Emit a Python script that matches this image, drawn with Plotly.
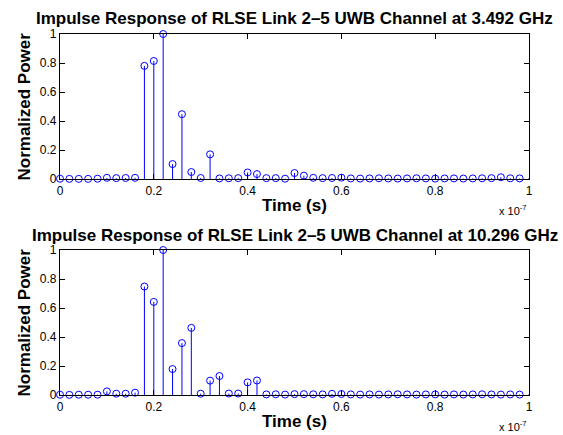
import numpy as np
import plotly.graph_objects as go
from plotly.subplots import make_subplots

# Sample instants of the channel impulse response (2 ns spacing, 0..100 ns)
sample_period_s = 2e-9
n_samples = 51
time_s = [k * sample_period_s for k in range(n_samples)]

# Normalized power per delay bin, link 2-5 at 3.492 GHz
power_3492 = [
    0.002, 0.001, 0.001, 0.001, 0.002, 0.008, 0.006, 0.007, 0.008, 0.780,
    0.814, 1.000, 0.103, 0.447, 0.048, 0.007, 0.170, 0.004, 0.005, 0.006,
    0.045, 0.034, 0.006, 0.006, 0.002, 0.041, 0.023, 0.008, 0.006, 0.007,
    0.009, 0.004, 0.003, 0.004, 0.005, 0.004, 0.003, 0.004, 0.005, 0.004,
    0.003, 0.004, 0.004, 0.003, 0.004, 0.005, 0.006, 0.012, 0.005, 0.004,
    0.006,
]

# Normalized power per delay bin, link 2-5 at 10.296 GHz
power_10296 = [
    0.002, 0.001, 0.002, 0.002, 0.002, 0.025, 0.009, 0.009, 0.016, 0.748,
    0.642, 1.000, 0.179, 0.358, 0.463, 0.009, 0.099, 0.131, 0.010, 0.010,
    0.087, 0.100, 0.004, 0.005, 0.003, 0.006, 0.006, 0.005, 0.004, 0.008,
    0.007, 0.004, 0.003, 0.004, 0.003, 0.004, 0.005, 0.004, 0.003, 0.004,
    0.004, 0.003, 0.004, 0.003, 0.004, 0.005, 0.004, 0.003, 0.004, 0.003,
    0.005,
]

titles = [
    "Impulse Response of RLSE Link 2\u20135 UWB Channel at 3.492 GHz",
    "Impulse Response of RLSE Link 2\u20135 UWB Channel at 10.296 GHz",
]
x_tick_vals = [0, 2e-8, 4e-8, 6e-8, 8e-8, 1e-7]
x_tick_text = ["0", "0.2", "0.4", "0.6", "0.8", "1"]
y_tick_vals = [0, 0.2, 0.4, 0.6, 0.8, 1]
y_tick_text = ["0", "0.2", "0.4", "0.6", "0.8", "1"]

BLUE = "#0000ff"
FONT = "Liberation Sans, Arial, Helvetica, sans-serif"

W, H = 563, 435
ML, MR, MT, MB = 60, 34, 34, 40
plot_h = H - MT - MB

fig = make_subplots(rows=2, cols=1, vertical_spacing=0)


def stem_segments(xs, ys):
    sx, sy = [], []
    for x, y in zip(xs, ys):
        sx += [x, x, None]
        sy += [0, y, None]
    return sx, sy


for row, series in enumerate([power_3492, power_10296], start=1):
    sx, sy = stem_segments(time_s, series)
    fig.add_trace(go.Scatter(x=sx, y=sy, mode="lines",
                             line=dict(color=BLUE, width=1),
                             hoverinfo="skip", showlegend=False,
                             cliponaxis=False), row=row, col=1)
    fig.add_trace(go.Scatter(x=time_s, y=series, mode="markers",
                             marker=dict(symbol="circle-open", size=7,
                                         color=BLUE, line=dict(width=1, color=BLUE)),
                             showlegend=False, cliponaxis=False), row=row, col=1)

axis_common = dict(showline=True, linecolor="black", linewidth=1.3, mirror="ticks",
                   ticks="inside", ticklen=5, tickwidth=1, tickcolor="black",
                   showgrid=False, zeroline=False,
                   tickfont=dict(family=FONT, size=12, color="black"))

# pixel rows of each panel: [top, bottom]
panels = [(MT, MT + 145), (H - MB - 145, H - MB)]


def py_to_paper(py):
    return (H - MB - py) / plot_h


for i, (top, bot) in enumerate(panels, start=1):
    xa = "xaxis" if i == 1 else f"xaxis{i}"
    ya = "yaxis" if i == 1 else f"yaxis{i}"
    fig.layout[xa].update(range=[0, 1e-7], tickvals=x_tick_vals, ticktext=x_tick_text,
                          **axis_common)
    fig.layout[ya].update(range=[0, 1], tickvals=y_tick_vals, ticktext=y_tick_text,
                          domain=[py_to_paper(bot), py_to_paper(top)], **axis_common)

    # panel title
    fig.add_annotation(text=f"<b>{titles[i-1]}</b>", xref="paper", yref="paper",
                       x=0.5, y=py_to_paper(top - 15), xanchor="center", yanchor="middle",
                       showarrow=False, font=dict(family=FONT, size=17, color="black"))
    # x label
    fig.add_annotation(text="<b>Time (s)</b>", xref="paper", yref="paper",
                       x=0.5, y=py_to_paper(bot + 26), xanchor="center", yanchor="middle",
                       showarrow=False, font=dict(family=FONT, size=17, color="black"))
    # y label
    fig.add_annotation(text="<b>Normalized Power</b>", xref="paper", yref="paper",
                       x=(24 - ML) / (W - ML - MR), y=py_to_paper((top + bot) / 2),
                       xanchor="center", yanchor="middle", textangle=-90,
                       showarrow=False, font=dict(family=FONT, size=17, color="black"))
    # exponent of the time axis
    fig.add_annotation(text="x 10<sup>-7</sup>", xref="paper", yref="paper",
                       x=1.0, y=py_to_paper(bot + 31), xanchor="right", yanchor="middle",
                       showarrow=False, font=dict(family=FONT, size=11, color="black"))

fig.update_layout(width=W, height=H, margin=dict(l=ML, r=MR, t=MT, b=MB),
                  paper_bgcolor="white", plot_bgcolor="white",
                  font=dict(family=FONT, color="black"))

fig.write_html("out.html")
